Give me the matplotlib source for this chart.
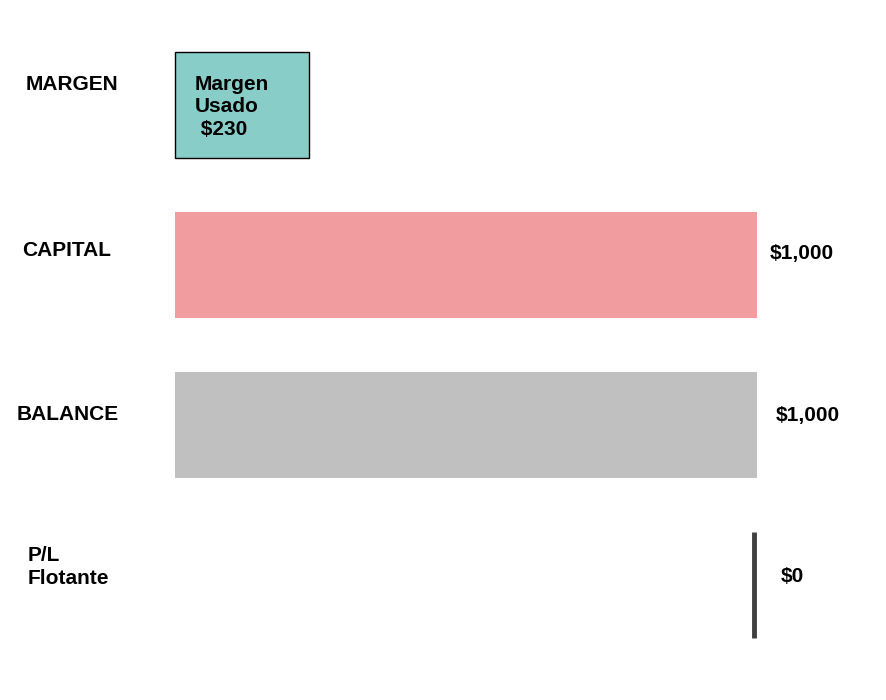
import matplotlib
matplotlib.use("Agg")
import matplotlib.pyplot as plt

categories = ["MARGEN", "CAPITAL", "BALANCE", "P/L\nFlotante"]
values = [230, 1000, 1000, 0]
value_labels = ["Margen\nUsado\n $230", "$1,000", "$1,000", "$0"]
colors = ["#88CDC8", "#F19C9E", "#C0C0C0", "#404040"]

plt.rcParams['font.family'] = ['Liberation Sans', 'DejaVu Sans']
W, H = 886, 700
fig = plt.figure(figsize=(W/100, H/100), dpi=100)
ax = fig.add_axes([0, 0, 1, 1])
ax.axis('off')
ppu = 582/1000
ax.set_xlim(-175/ppu, (W-175)/ppu)
ax.set_ylim((H-105)/160, -105/160)

def fx(px): return px / W
def fy(py): return 1 - py / H

# margin box
ax.barh(0, values[0], height=0.66, color=colors[0], edgecolor='black', linewidth=1)
ax.barh(1, values[1], height=0.66, color=colors[1])
ax.barh(2, values[2], height=0.66, color=colors[2])
ax.plot([1000-5, 1000-5], [3-0.33, 3+0.33], color=colors[3], linewidth=3.5, solid_capstyle='butt')

lx = [26, 22, 17, 28]
ly = [85, 250, 414, 567]
for c, x, y in zip(categories, lx, ly):
    fig.text(fx(x), fy(y), c, fontsize=15, fontweight='bold', ha='left', va='center', linespacing=1.3)

fig.text(fx(195), fy(107), value_labels[0], fontsize=15, fontweight='bold', ha='left', va='center', linespacing=1.25)
rx = [770, 776, 781]
ry = [254, 415, 576]
for t, x, y in zip(value_labels[1:], rx, ry):
    fig.text(fx(x), fy(y), t, fontsize=15, fontweight='bold', ha='left', va='center')

fig.savefig("out.png", dpi=100, facecolor='white')
